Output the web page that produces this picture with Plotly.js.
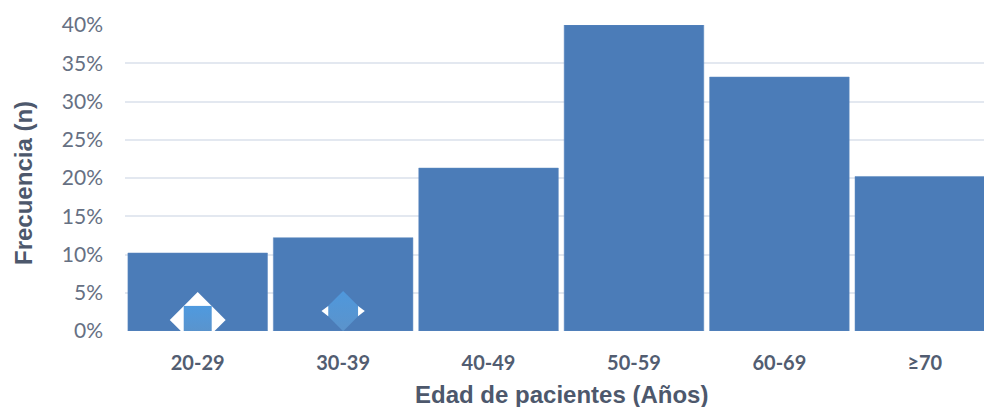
<!DOCTYPE html>
<html>
<head>
<meta charset="utf-8">
<script src="https://cdn.plot.ly/plotly-3.0.1.min.js"></script>
<style>html,body{margin:0;padding:0;background:#fff}</style>
</head>
<body>
<div id="chart" style="width:984px;height:407px"></div>
<script>
// Age groups and the share of patients in each one
const ageGroups = ['20-29', '30-39', '40-49', '50-59', '60-69', '≥70'];
const shares = [10.2, 12.2, 21.3, 40, 33.2, 20.2];
const percentTicks = [0, 5, 10, 15, 20, 25, 30, 35, 40];
const xAxisTitle = 'Edad de pacientes (Años)';
const yAxisTitle = 'Frecuencia (n)';

// Small emblems sitting at the foot of the first two bars
const emblemGroups = [0, 1];
const emblemHeights = [1.45, 2.6];
const tipOffset = 0.118;

const tickFamily = 'Lato, Open Sans, sans-serif';
const titleFont = {family: 'Liberation Sans, Arial, sans-serif', size: 24, color: '#4d586c', weight: 700};

const bars = {
  type: 'bar',
  x: ageGroups.map((_, i) => i),
  y: shares,
  marker: {color: '#4b7cb8', line: {color: '#5f8bc0', width: 0.5}},
  hoverinfo: 'x+y'
};

function emblem(x, y, symbol, size, color, gradientEnd) {
  const marker = {symbol: symbol, size: size, color: color, line: {width: 0}};
  if (gradientEnd) marker.gradient = {type: 'vertical', color: gradientEnd};
  return {type: 'scatter', mode: 'markers', x: [x], y: [y], marker: marker, hoverinfo: 'skip', showlegend: false};
}

const traces = [
  bars,
  emblem(emblemGroups[0], emblemHeights[0], 'diamond', 43, '#ffffff'),
  emblem(emblemGroups[0], emblemHeights[0], 'square', 28, '#4f9adf', '#5b93cb'),
  emblem(emblemGroups[1], emblemHeights[1], 'diamond', 31, '#4f98dc', '#5b93cb'),
  emblem(emblemGroups[1] - tipOffset, emblemHeights[1], 'triangle-left', 9, '#ffffff'),
  emblem(emblemGroups[1] + tipOffset, emblemHeights[1], 'triangle-right', 9, '#ffffff')
];

const layout = {
  width: 984,
  height: 407,
  margin: {l: 124.5, r: 0, t: 24.5, b: 76},
  paper_bgcolor: '#ffffff',
  plot_bgcolor: '#ffffff',
  showlegend: false,
  bargap: 0.04,
  xaxis: {
    type: 'linear',
    tickmode: 'array',
    tickvals: ageGroups.map((_, i) => i),
    ticktext: ageGroups,
    range: [-0.5, 5.407],
    showgrid: false,
    zeroline: false,
    showline: false,
    ticks: '',
    ticklabelstandoff: 18,
    tickfont: {family: tickFamily, size: 20, color: '#525d71', weight: 700}
  },
  yaxis: {
    range: [0, 40],
    tickmode: 'array',
    tickvals: percentTicks,
    ticktext: percentTicks.map(v => v + '%'),
    showgrid: true,
    gridcolor: '#e3e8f0',
    gridwidth: 2,
    zeroline: false,
    showline: false,
    ticks: '',
    ticklabelstandoff: 21,
    tickfont: {family: tickFamily, size: 21, color: '#667083'}
  },
  // Axis captions sit slightly off the plot centre, so they are placed as annotations
  annotations: [
    {text: xAxisTitle, xref: 'paper', yref: 'paper', x: 0.508, y: -0.209, xanchor: 'center', yanchor: 'middle', showarrow: false, font: titleFont},
    {text: yAxisTitle, xref: 'paper', yref: 'paper', x: -0.119, y: 0.483, xanchor: 'center', yanchor: 'middle', textangle: -90, showarrow: false, font: titleFont}
  ]
};

Plotly.newPlot('chart', traces, layout, {displayModeBar: false, staticPlot: true});
</script>
</body>
</html>
